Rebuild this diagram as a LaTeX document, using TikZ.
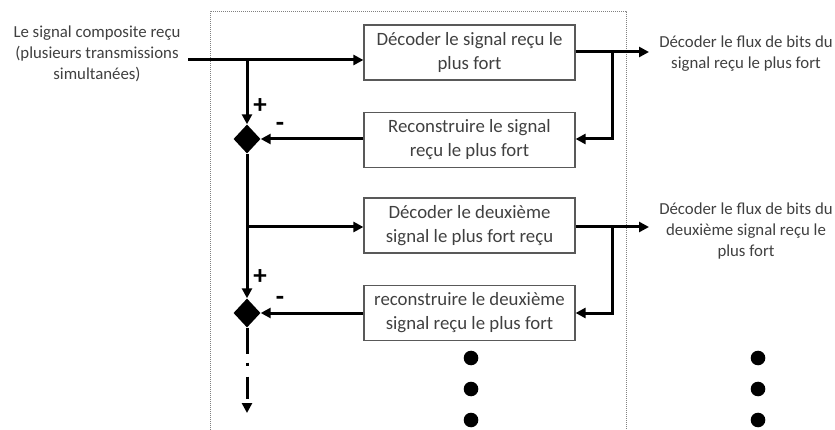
\documentclass[tikz,border=0pt]{standalone}
\usepackage{fontspec}
\setmainfont{Carlito}
\usetikzlibrary{arrows.meta,shapes.geometric}
\definecolor{txtgray}{RGB}{64,64,64}
\definecolor{boxgray}{RGB}{89,89,89}
\tikzset{
  blk/.style={draw=boxgray, line width=1.2pt, minimum width=211pt, minimum height=55pt,
    align=center, text=txtgray, inner sep=2pt, font=\fontsize{18.8}{24}\selectfont},
  lbl/.style={align=center, text=txtgray, inner sep=2pt, font=\fontsize{16.8}{21}\selectfont},
  sgn/.style={inner sep=0pt, font=\bfseries\fontsize{27}{28}\selectfont},
  sumnode/.style={diamond, fill=black, inner sep=0pt, minimum width=27pt, minimum height=29pt},
  wire/.style={line width=3pt},
  sig/.style={line width=3pt, -{Triangle[length=10pt,width=10pt]}},
  dotmark/.style={circle, fill=black, inner sep=0pt, minimum size=14.6pt},
  frame/.style={draw=gray, line width=0.8pt, dash pattern=on 1pt off 1pt}
}
\begin{document}
\begin{tikzpicture}[x=1pt, y=-1pt]
  \useasboundingbox (0,0) rectangle (835,430);
  \draw[frame] (210,430) -- (210,11) -- (626,11) -- (626,430);

  \node[lbl] (in) at (97,54) {Le signal composite reçu\\(plusieurs transmissions\\simultanées)};
  \node[blk] (b1) at (469.5,52.5) {Décoder le signal reçu le\\plus fort};
  \node[blk] (b2) at (469.5,140) {Reconstruire le signal\\reçu le plus fort};
  \node[blk] (b3) at (469.5,225.5) {Décoder le deuxième\\signal le plus fort reçu};
  \node[blk] (b4) at (469.5,313) {reconstruire le deuxième\\signal reçu le plus fort};
  \node[lbl] (out1) at (746,54) {Décoder le flux de bits du\\signal reçu le plus fort};
  \node[lbl] (out2) at (746,231) {Décoder le flux de bits du\\deuxième signal reçu le\\plus fort};
  \node[sumnode] (sum1) at (247,139) {};
  \node[sumnode] (sum2) at (247,313) {};
  \node[sgn] (plus1) at (260,106) {+};
  \node[sgn] (minus1) at (280,127) {-};
  \node[sgn] (plus2) at (260,277) {+};
  \node[sgn] (minus2) at (280,301) {-};
  \foreach \y [count=\k] in {358,389,420} {
    \node[dotmark] (dm\k) at (471,\y) {};
    \node[dotmark] (dr\k) at (758,\y) {};
  }

  \coordinate (start) at (188,60);
  \coordinate (j1) at (247,60);
  \coordinate (j2) at (247,227);
  \coordinate (r1) at (612,52);
  \coordinate (r2) at (612,227);
  \coordinate (t1) at (649,52);
  \coordinate (t2) at (649,227);
  \coordinate (e1) at (247,413);

  \draw[sig] (start) -- (start -| b1.west);
  \draw[sig] (j1) -- (sum1.north);
  \draw[sig] (b2.west |- sum1) -- (sum1.east);
  \draw[wire] (sum1.south) -- (j2);
  \draw[sig] (j2) -- (sum2.north);
  \draw[sig] (j2) -- (j2 -| b3.west);
  \draw[sig] (b4.west |- sum2) -- (sum2.east);
  \draw[sig, dash pattern=on 26pt off 9pt on 3pt off 11pt on 22pt off 20pt] (sum2.south) -- (e1);

  \draw[sig] (b1.east |- r1) -- (t1);
  \draw[sig] (r1) |- (b2.east |- sum1);
  \draw[sig] (b3.east |- r2) -- (t2);
  \draw[sig] (r2) |- (b4.east |- sum2);
\end{tikzpicture}
\end{document}
